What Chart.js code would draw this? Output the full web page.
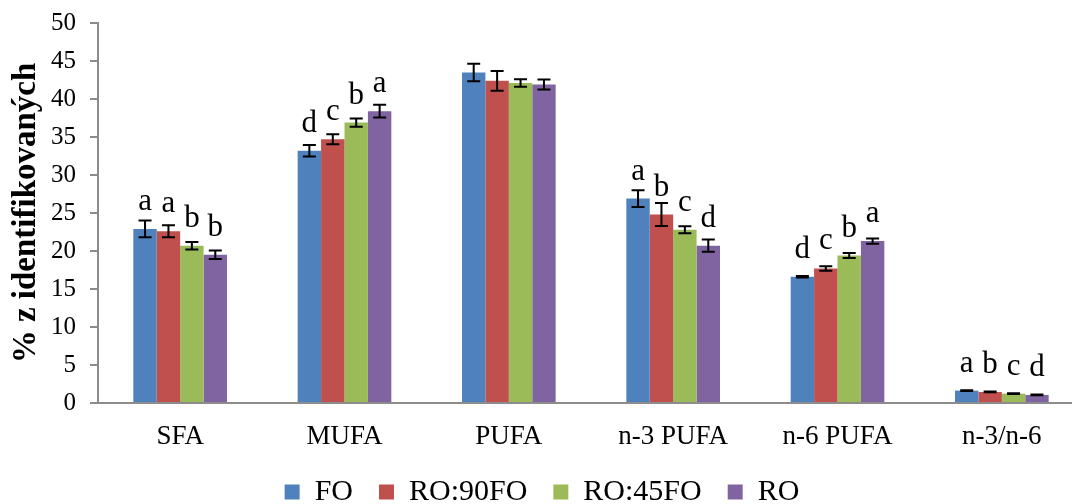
<!DOCTYPE html>
<html lang="cs">
<head>
    <meta charset="UTF-8">
    <title>Mastné kyseliny</title>
    <script src="https://cdn.jsdelivr.net/npm/chart.js"></script>
    <style>
        html, body { margin: 0; padding: 0; background: #fff; overflow: hidden; }
        #wrap { width: 1088px; height: 504px; position: relative; }
    </style>
</head>
<body>
    <div id="wrap"><canvas id="chart"></canvas></div>

    <script>
        const categories = ['SFA', 'MUFA', 'PUFA', 'n-3 PUFA', 'n-6 PUFA', 'n-3/n-6'];
        const seriesNames = ['FO', 'RO:90FO', 'RO:45FO', 'RO'];
        const colors = ['#4F81BD', '#C0504D', '#9BBB59', '#8064A2'];

        const foValues   = [22.9, 33.2, 43.5, 26.9, 16.6, 1.63];
        const ro90Values = [22.6, 34.7, 42.4, 24.8, 17.7, 1.45];
        const ro45Values = [20.7, 36.9, 42.1, 22.8, 19.4, 1.23];
        const roValues   = [19.5, 38.4, 41.9, 20.7, 21.3, 1.06];

        const foErr   = [1.1, 0.75, 1.15, 1.1, 0.1, 0.05];
        const ro90Err = [0.8, 0.65, 1.3, 1.5, 0.3, 0.05];
        const ro45Err = [0.5, 0.55, 0.5, 0.45, 0.33, 0.05];
        const roErr   = [0.55, 0.85, 0.65, 0.8, 0.33, 0.05];

        const foLetters   = ['a', 'd', '', 'a', 'd', 'a'];
        const ro90Letters = ['a', 'c', '', 'b', 'c', 'b'];
        const ro45Letters = ['b', 'b', '', 'c', 'b', 'c'];
        const roLetters   = ['b', 'a', '', 'd', 'a', 'd'];

        const yTicks = [0, 5, 10, 15, 20, 25, 30, 35, 40, 45, 50];

        const allValues = [foValues, ro90Values, ro45Values, roValues];
        const allErr = [foErr, ro90Err, ro45Err, roErr];
        const allLetters = [foLetters, ro90Letters, ro45Letters, roLetters];

        const serif = "'Liberation Serif', 'Times New Roman', serif";

        // error bars + significance letters (letters sit a fixed distance above the bar top)
        const errorBarPlugin = {
            id: 'errorBars',
            afterDatasetsDraw(chart) {
                const ctx = chart.ctx;
                const y = chart.scales.y;
                ctx.save();
                chart.data.datasets.forEach((ds, i) => {
                    const meta = chart.getDatasetMeta(i);
                    meta.data.forEach((bar, j) => {
                        const v = ds.data[j];
                        const e = allErr[i][j];
                        const top = y.getPixelForValue(v + e);
                        const bottom = y.getPixelForValue(v - e);
                        ctx.strokeStyle = '#000';
                        ctx.lineWidth = 2;
                        ctx.beginPath();
                        ctx.moveTo(bar.x, top);
                        ctx.lineTo(bar.x, bottom);
                        ctx.moveTo(bar.x - 6.5, top);
                        ctx.lineTo(bar.x + 6.5, top);
                        ctx.moveTo(bar.x - 6.5, bottom);
                        ctx.lineTo(bar.x + 6.5, bottom);
                        ctx.stroke();

                        const letter = allLetters[i][j];
                        if (letter) {
                            ctx.fillStyle = '#000';
                            ctx.font = '31px ' + serif;
                            ctx.textAlign = 'center';
                            ctx.textBaseline = 'alphabetic';
                            ctx.fillText(letter, bar.x, bar.y - 19);
                        }
                    });
                });
                ctx.restore();
            }
        };

        new Chart(document.getElementById('chart'), {
            type: 'bar',
            data: {
                labels: categories,
                datasets: seriesNames.map((name, i) => ({
                    label: name,
                    data: allValues[i],
                    backgroundColor: colors[i],
                    borderWidth: 0,
                    barPercentage: 1,
                    categoryPercentage: 0.57
                }))
            },
            options: {
                responsive: true,
                maintainAspectRatio: false,
                animation: false,
                layout: { padding: { top: 23, left: 0, right: 4, bottom: -13 } },
                plugins: {
                    tooltip: { enabled: false },
                    legend: {
                        position: 'bottom',
                        labels: {
                            font: { family: serif, size: 30 },
                            color: '#000',
                            boxWidth: 15,
                            boxHeight: 15,
                            padding: 26,
                            useBorderRadius: false
                        }
                    }
                },
                scales: {
                    x: {
                        grid: { display: false },
                        border: { display: true, color: '#8c8c8c', width: 2 },
                        ticks: {
                            color: '#000',
                            padding: 10,
                            font: { family: serif, size: 27 }
                        },
                        afterFit(scale) { scale.height = 48; }
                    },
                    y: {
                        min: 0,
                        max: 50,
                        afterBuildTicks(scale) {
                            scale.ticks = yTicks.map(v => ({ value: v }));
                        },
                        grid: {
                            drawOnChartArea: false,
                            drawTicks: true,
                            tickLength: 8,
                            color: '#8c8c8c',
                            lineWidth: 2
                        },
                        border: { display: true, color: '#8c8c8c', width: 2 },
                        ticks: {
                            color: '#000',
                            padding: 14,
                            font: { family: serif, size: 25, lineHeight: 1 }
                        },
                        title: {
                            display: true,
                            text: '% z identifikovaných',
                            color: '#000',
                            font: { family: serif, size: 33, weight: 'bold' },
                            padding: { top: 7, bottom: 0 }
                        },
                        afterFit(scale) {
                            scale.width = 98;
                            scale.paddingTop = 0;
                        }
                    }
                }
            },
            plugins: [errorBarPlugin]
        });
    </script>
</body>
</html>
